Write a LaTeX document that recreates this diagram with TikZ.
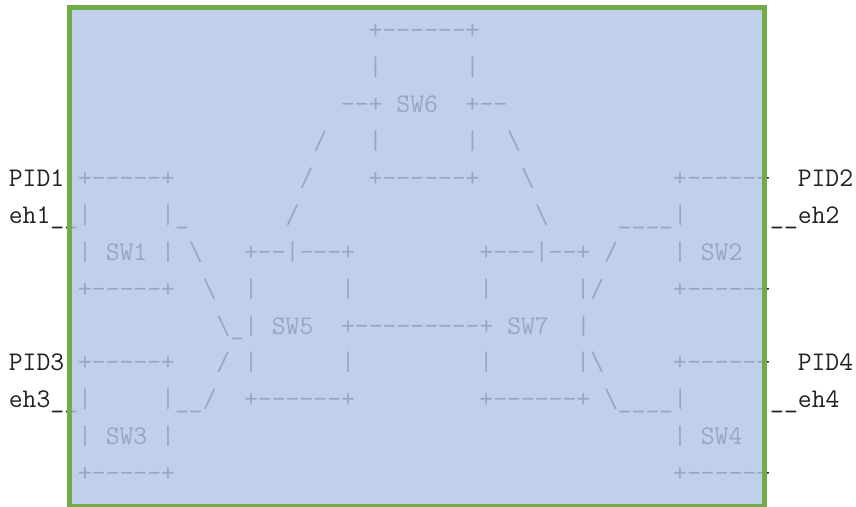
\documentclass[tikz,border=0pt]{standalone}
\usepackage{fontspec}
\usepackage{tikz}

\begin{document}
\begin{tikzpicture}[x=13.84pt, y=-36.9pt,
  font=\fontsize{26.9}{30}\selectfont\ttfamily,
  ascii/.style={anchor=base west, inner sep=0pt, outer sep=0pt, yshift=-6.6pt, text=artInk}]
\definecolor{artInk}{HTML}{222222}
\definecolor{boxFill}{HTML}{B2C4E5}
\definecolor{boxEdge}{HTML}{70AD47}
\useasboundingbox (-6.142,-0.875) rectangle (55.708,12.864);
% sw6 on top
\node[ascii] (sw6top) at (20.5,0) {+------+};
\node[ascii] (sw6up) at (20.5,1) {|~~~~~~|};
\node[ascii] (sw6mid) at (18.5,2) {--+~SW6~~+--};
\node[ascii] (linkAl) at (16.5,3) {/};  \node[ascii] (sw6low) at (20.5,3) {|~~~~~~|};
\node[ascii] (linkAr) at (30.5,3) {\textbackslash};
% row with PID1 / PID2
\node[ascii] (pid1) at (-5.5,4) {PID1};  \node[ascii] (sw1top) at (-0.5,4) {+-----+};
\node[ascii] (linkBl) at (15.5,4) {/};  \node[ascii] (sw6bot) at (20.5,4) {+------+};
\node[ascii] (linkBr) at (31.5,4) {\textbackslash};  \node[ascii] (sw2top) at (42.5,4) {+-----+};
\node[ascii] (pid2) at (51.5,4) {PID2};
\node[ascii] (eh1) at (-5.5,5) {eh1\_\_|~~~~~|\_};
\node[ascii] (linkCl) at (14.5,5) {/};  \node[ascii] (linkCr) at (32.5,5) {\textbackslash};
\node[ascii] (eh2) at (38.5,5) {\_\_\_\_|~~~~~|\_\_eh2};
\node[ascii] (sw1mid) at (-0.5,6) {|~SW1~|};  \node[ascii] (linkD) at (7.5,6) {\textbackslash};
\node[ascii] (sw5top) at (11.5,6) {+--|---+};  \node[ascii] (sw7top) at (28.5,6) {+---|--+};
\node[ascii] (linkE) at (37.5,6) {/};  \node[ascii] (sw2mid) at (42.5,6) {|~SW2~|};
\node[ascii] (sw1bot) at (-0.5,7) {+-----+};  \node[ascii] (linkF) at (8.5,7) {\textbackslash};
\node[ascii] (sw5up) at (11.5,7) {|~~~~~~|};  \node[ascii] (sw7up) at (28.5,7) {|~~~~~~|/};
\node[ascii] (sw2bot) at (42.5,7) {+-----+};
% sw5 -- sw7
\node[ascii] (trunk) at (9.5,8) {\textbackslash\_|~SW5~~+---------+~SW7~~|};
% row with PID3 / PID4
\node[ascii] (pid3) at (-5.5,9) {PID3};  \node[ascii] (sw3top) at (-0.5,9) {+-----+};
\node[ascii] (linkG) at (9.5,9) {/};  \node[ascii] (sw5low) at (11.5,9) {|~~~~~~|};
\node[ascii] (sw7low) at (28.5,9) {|~~~~~~|\textbackslash};  \node[ascii] (sw4top) at (42.5,9) {+-----+};
\node[ascii] (pid4) at (51.5,9) {PID4};
\node[ascii] (eh3) at (-5.5,10) {eh3\_\_|~~~~~|\_\_/};
\node[ascii] (sw5bot) at (11.5,10) {+------+};  \node[ascii] (sw7bot) at (28.5,10) {+------+};
\node[ascii] (eh4) at (37.5,10) {\textbackslash\_\_\_\_|~~~~~|\_\_eh4};
\node[ascii] (sw3mid) at (-0.5,11) {|~SW3~|};  \node[ascii] (sw4mid) at (42.5,11) {|~SW4~|};
\node[ascii] (sw3bot) at (-0.5,12) {+-----+};  \node[ascii] (sw4bot) at (42.5,12) {+-----+};
% see-through panel laid over the art
\fill[boxFill, fill opacity=0.82] (-1.098,-0.664) rectangle (49.075,12.851);
\draw[boxEdge, line width=5pt] (-1.098,-0.664) rectangle (49.075,12.851);
\end{tikzpicture}
\end{document}
